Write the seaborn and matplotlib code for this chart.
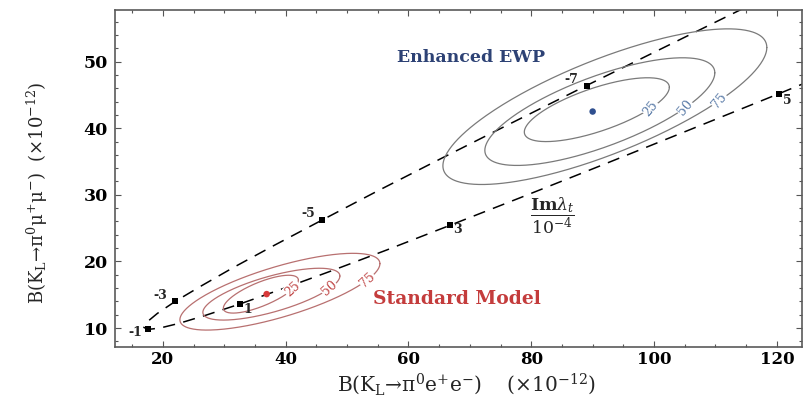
import numpy as np
import pandas as pd
import matplotlib
matplotlib.use("Agg")
import matplotlib.pyplot as plt
import seaborn as sns
from matplotlib.ticker import MultipleLocator

# Prediction curve parametrised by Im(lambda_t) (units of 1e-4);
# branching ratios in units of 1e-12
im_lambda_t = [-8.0, -7.5, -7.0, -6.5, -6.0, -5.5, -5.0, -4.5, -4.0, -3.5,
               -3.0, -2.5, -2.0, -1.5, -1.0, -0.5, 0.0, 0.5, 1.0, 1.5,
               2.0, 2.5, 3.0, 3.5, 4.0, 4.5, 5.0, 5.5]
br_ee_curve = [117.9, 102.9, 89.0, 76.4, 65.0, 54.8, 45.9, 38.1, 31.5, 26.2,
               22.0, 19.1, 17.4, 16.9, 17.6, 19.5, 22.6, 26.9, 32.5, 39.2,
               47.2, 56.4, 66.7, 78.3, 91.1, 105.1, 120.4, 136.8]
br_mumu_curve = [59.5, 52.7, 46.4, 40.6, 35.3, 30.5, 26.2, 22.4, 19.1, 16.3,
                 14.0, 12.2, 10.9, 10.1, 9.8, 10.0, 10.7, 11.9, 13.6, 15.8,
                 18.5, 21.7, 25.4, 29.6, 34.3, 39.5, 45.2, 51.4]

# Labelled points on the curve
marker_labels = ["-7", "-5", "-3", "-1", "1", "3", "5"]
marker_ee = [89.0, 45.9, 22.0, 17.6, 32.5, 66.7, 120.4]
marker_mumu = [46.4, 26.2, 14.0, 9.8, 13.6, 25.4, 45.2]

# Central values of the two scenarios
scenarios = ["Standard Model", "Enhanced EWP"]
central_ee = [36.9, 90.0]
central_mumu = [15.1, 42.5]

# Probability contours (%): centre, half-extent along each axis, correlation
contour_levels = [25, 50, 75]
sm_centre_ee = [35.96, 37.67, 39.06]
sm_centre_mumu = [15.09, 15.09, 15.46]
sm_half_ee = [6.11, 11.16, 16.29]
sm_half_mumu = [2.84, 3.89, 5.76]
sm_corr = [0.74, 0.70, 0.73]

ewp_centre_ee = [90.68, 91.17, 91.99]
ewp_centre_mumu = [42.78, 42.49, 43.23]
ewp_half_ee = [11.81, 18.73, 26.38]
ewp_half_mumu = [4.79, 8.08, 11.68]
ewp_corr = [0.70, 0.72, 0.76]

x_ticks = [20, 40, 60, 80, 100, 120]
y_ticks = [10, 20, 30, 40, 50]

# ---------------------------------------------------------------- style
sns.set_style("ticks", {"xtick.direction": "in", "ytick.direction": "in"})
plt.rcParams["font.family"] = ["DejaVu Serif"]
plt.rcParams["mathtext.fontset"] = "dejavuserif"

fig = plt.figure(figsize=(8.08, 3.98), dpi=100)
ax = fig.add_axes([115 / 808, 1 - 347 / 398, 687 / 808, 337 / 398])
ax.set_xlim(12.2, 124.1)
ax.set_ylim(7.16, 57.74)

# ---------------------------------------------------------------- curve
curve = pd.DataFrame({"im": im_lambda_t, "ee": br_ee_curve, "mumu": br_mumu_curve})
sns.lineplot(data=curve, x="ee", y="mumu", sort=False, estimator=None,
             color="black", lw=1.1, ax=ax)
ax.lines[-1].set_linestyle((0, (8, 5.5)))

pts = pd.DataFrame({"label": marker_labels, "ee": marker_ee, "mumu": marker_mumu})
sns.scatterplot(data=pts, x="ee", y="mumu", marker="s", s=14, color="black",
                linewidth=0, ax=ax, zorder=4)
label_offsets = {"-7": (-11, 4), "-5": (-10, 5), "-3": (-11, 4), "-1": (-9, -2),
                 "1": (6, -4), "3": (6, -3), "5": (6, -5)}
for lab, xv, yv in zip(marker_labels, marker_ee, marker_mumu):
    ax.annotate(lab, (xv, yv), xytext=label_offsets[lab], textcoords="offset points",
                ha="center", va="center", fontsize=9, fontweight="bold")

# ---------------------------------------------------------------- contours
phi = np.linspace(0, 2 * np.pi, 361)


def ellipse(cx, cy, wx, wy, rho, ang):
    return (cx + wx * np.cos(ang),
            cy + wy * (rho * np.cos(ang) + np.sqrt(1 - rho ** 2) * np.sin(ang)))


def draw_contours(cxs, cys, wxs, wys, rhos, line_color, text_color, label_phis, rot):
    for lev, cx, cy, wx, wy, rho, lphi in zip(contour_levels, cxs, cys, wxs, wys,
                                              rhos, label_phis):
        ex, ey = ellipse(cx, cy, wx, wy, rho, phi)
        ax.plot(ex, ey, color=line_color, lw=0.9, zorder=2)
        lx, ly = ellipse(cx, cy, wx, wy, rho, np.radians(lphi))
        ax.text(lx, ly, str(lev), color=text_color, fontsize=9, rotation=rot,
                rotation_mode="anchor", ha="center", va="center", zorder=3,
                bbox=dict(boxstyle="square,pad=0.05", fc="white", ec="none"))


draw_contours(sm_centre_ee, sm_centre_mumu, sm_half_ee, sm_half_mumu, sm_corr,
              "#b87070", "#c04545", [-32, -32, -29], 42)
draw_contours(ewp_centre_ee, ewp_centre_mumu, ewp_half_ee, ewp_half_mumu, ewp_corr,
              "#7a7a7a", "#5577a5", [-42, -42, -45], 50)

centres = pd.DataFrame({"scenario": scenarios, "ee": central_ee, "mumu": central_mumu})
sns.scatterplot(data=centres, x="ee", y="mumu", hue="scenario",
                palette={"Standard Model": "#d83a3a", "Enhanced EWP": "#2f4f8f"},
                s=22, linewidth=0, legend=False, ax=ax, zorder=5)

# ---------------------------------------------------------------- text
ax.text(70.2, 50.6, "Enhanced EWP", color="#2d4275", fontsize=12.5,
        fontweight="bold", ha="center", va="center")
ax.text(67.9, 14.3, "Standard Model", color="#c43c3c", fontsize=13.5,
        fontweight="bold", ha="center", va="center")
ax.text(83.4, 26.8, r"$\dfrac{\mathbf{Im}\lambda_t}{10^{-4}}$", fontsize=12.5,
        ha="center", va="center")

# ---------------------------------------------------------------- axes
ax.set_xticks(x_ticks)
ax.set_yticks(y_ticks)
ax.xaxis.set_minor_locator(MultipleLocator(5))
ax.yaxis.set_minor_locator(MultipleLocator(2))
ax.tick_params(which="both", direction="in", top=True, right=True,
               colors="#555555", labelcolor="black", width=0.8)
ax.tick_params(which="major", length=4, labelsize=12.5, pad=5)
ax.tick_params(axis="x", which="major", labelsize=12, pad=3)
ax.tick_params(which="minor", length=2.5)
for lbl in ax.get_xticklabels() + ax.get_yticklabels():
    lbl.set_fontweight("bold")
for sp in ax.spines.values():
    sp.set_visible(True)
    sp.set_color("#5a5a5a")
    sp.set_linewidth(1.2)

ax.set_xlabel(r"B(K$_{\rm L}$→π$^{\rm 0}$e$^{+}$e$^{-}$)    ($\times$10$^{-12}$)",
              fontsize=14.5)
ax.set_ylabel(r"B(K$_{\rm L}$→π$^{\rm 0}$μ$^{+}$μ$^{-}$)  ($\times$10$^{-12}$)",
              fontsize=13)
ax.xaxis.label.set_va("center")
ax.yaxis.label.set_va("center")
ax.xaxis.set_label_coords((466 - 115) / 687, (347 - 384) / 337)
ax.yaxis.set_label_coords((37 - 115) / 687, (347 - 193) / 337)

fig.savefig("out.png", dpi=100)
